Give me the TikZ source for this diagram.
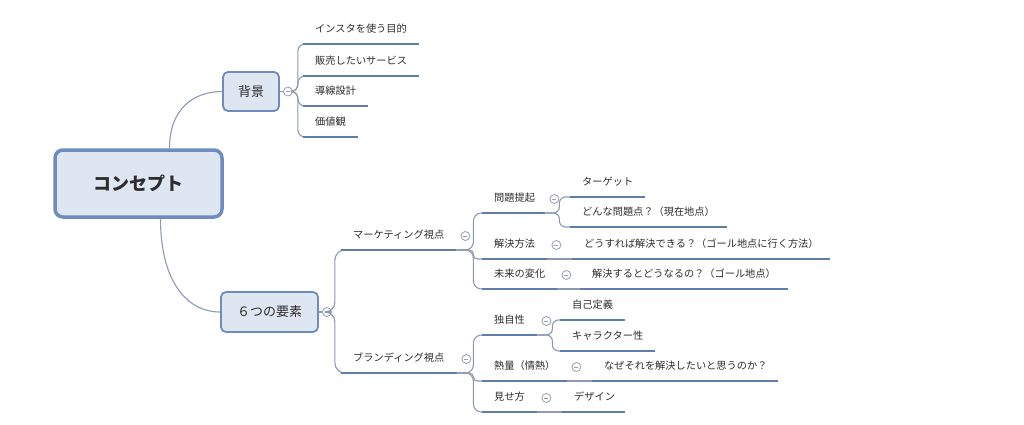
\documentclass[tikz,border=0pt]{standalone}
\usepackage{fontspec}
\setmainfont{Noto Sans CJK JP}
\definecolor{textc}{RGB}{45,45,45}
\definecolor{boxf}{RGB}{222,230,242}
\definecolor{boxd}{RGB}{110,140,190}
\definecolor{ulc}{RGB}{95,125,170}
\definecolor{connc}{RGB}{140,155,180}
\definecolor{circc}{RGB}{150,160,175}
\begin{document}
\begin{tikzpicture}[x=1pt,y=-1pt,
  conn/.style={draw=connc, line width=1.1pt},
  uline/.style={draw=ulc, line width=2.8pt},
  box/.style={draw=boxd, fill=boxf, rounded corners=5pt, line width=1.8pt, text=textc, font=\fontsize{13}{15}\selectfont, inner sep=0pt},
  topic/.style={anchor=south west, inner xsep=0pt, inner ysep=10pt, text height=8.8pt, text depth=1.2pt, text width=#1, align=left, text=textc, font=\fontsize{10.2}{12}\selectfont, execute at begin node=\hspace*{12pt}},
  collapse/.style={circle, draw=circc, fill=white, line width=0.8pt, minimum size=9pt, inner sep=0pt,
    path picture={\draw[circc, line width=0.7pt] ([xshift=-2pt]path picture bounding box.center) -- ([xshift=2pt]path picture bounding box.center);}}
]
\fill[white] (0,0) rectangle (1024,425);
\useasboundingbox (0,0) rectangle (1024,425);

% main boxes
\node[box, draw=boxd, line width=3.5pt, rounded corners=8pt, minimum width=167pt, minimum height=67pt, font=\fontsize{18}{20}\selectfont\bfseries] (c) at (138.5,183.5) {コンセプト};
\node[box, minimum width=56pt, minimum height=39pt] (bg) at (251,91.5) {背景};
\node[box, minimum width=97pt, minimum height=40pt] (six) at (269.5,312) {６つの要素};

% topics
\node[topic=116pt] (b1) at (303,44) {インスタを使う目的};
\node[topic=116pt] (b2) at (303,76) {販売したいサービス};
\node[topic=65pt] (b3) at (303,106) {導線設計};
\node[topic=55pt] (b4) at (303,137) {価値観};
\node[topic=115pt] (mk) at (341,250) {マーケティング視点};
\node[topic=116pt] (br) at (341,373) {ブランディング視点};
\node[topic=63pt] (m1) at (482,213) {問題提起};
\node[topic=75pt] (m1a) at (570,197) {ターゲット};
\node[topic=157pt] (m1b) at (570,227) {どんな問題点？（現在地点）};
\node[topic=65pt] (m2) at (482,259) {解決方法};
\node[topic=258pt] (m2a) at (572,259) {どうすれば解決できる？（ゴール地点に行く方法）};
\node[topic=75pt] (m3) at (482,289) {未来の変化};
\node[topic=208pt] (m3a) at (580,289) {解決するとどうなるの？（ゴール地点）};
\node[topic=55pt] (d1) at (482,335) {独自性};
\node[topic=65pt] (d1a) at (560,320) {自己定義};
\node[topic=95pt] (d1b) at (560,351) {キャラクター性};
\node[topic=85pt] (d2) at (482,381) {熱量（情熱）};
\node[topic=186pt] (d2a) at (592,381) {なぜそれを解決したいと思うのか？};
\node[topic=55pt] (d3) at (482,412) {見せ方};
\node[topic=63pt] (d3a) at (562,412) {デザイン};

% collapse markers
\node[collapse] (bgc) at ([xshift=8pt]bg.east) {};
\node[collapse] (sixc) at ([xshift=8pt]six.east) {};
\coordinate (bgj) at ([xshift=10pt]bgc.center);
\coordinate (sixj) at ([xshift=8pt]sixc.center);
\coordinate (mkj) at ([xshift=17pt]mk.south east);
\coordinate (brj) at ([xshift=16pt]br.south east);
\coordinate (m1j) at ([xshift=14pt]m1.south east);
\coordinate (d1j) at ([xshift=15pt]d1.south east);

% connectors
\draw[conn] ([xshift=31pt]c.north) .. controls +(0,-40) and +(-28,0) .. (bg.west);
\draw[conn] ([xshift=22pt]c.south) .. controls +(0,60) and +(-35,0) .. (six.west);
\draw[conn] (bg.east) -- (bgc.west);
\draw[conn] (six.east) -- (sixc.west);
\foreach \t in {b1,b2,b3,b4}
  \draw[conn, rounded corners=7pt] (bgc.east) -- (bgj) |- (\t.south west);
\foreach \t in {mk,br}
  \draw[conn, rounded corners=10pt] (sixc.east) -- (sixj) |- (\t.south west);
\foreach \t in {m1,m3}
  \draw[conn, rounded corners=8pt] (mk.south east) -- (mkj) |- (\t.south west);
\draw[conn, rounded corners=4pt] (mk.south east) -- (mkj) |- (m2.south west);
\foreach \t in {d1,d3}
  \draw[conn, rounded corners=8pt] (br.south east) -- (brj) |- (\t.south west);
\draw[conn, rounded corners=4pt] (br.south east) -- (brj) |- (d2.south west);
\foreach \t in {m1a,m1b}
  \draw[conn, rounded corners=6pt] (m1.south east) -- (m1j) |- (\t.south west);
\foreach \t in {d1a,d1b}
  \draw[conn, rounded corners=6pt] (d1.south east) -- (d1j) |- (\t.south west);
\draw[conn] (m2.south east) -- (m2a.south west);
\draw[conn] (m3.south east) -- (m3a.south west);
\draw[conn] (d2.south east) -- (d2a.south west);
\draw[conn] (d3.south east) -- (d3a.south west);

% underlines
\foreach \t in {b1,b2,b3,b4,mk,br,m1,m1a,m1b,m2,m2a,m3,m3a,d1,d1a,d1b,d2,d2a,d3,d3a}
  \draw[uline] (\t.south west) -- (\t.south east);

% topic collapse markers
\foreach \t in {mk,br,m1,m2,m3,d1,d2,d3}
  \node[collapse] (\t c) at ([xshift=9pt,yshift=14pt]\t.south east) {};
\end{tikzpicture}
\end{document}
